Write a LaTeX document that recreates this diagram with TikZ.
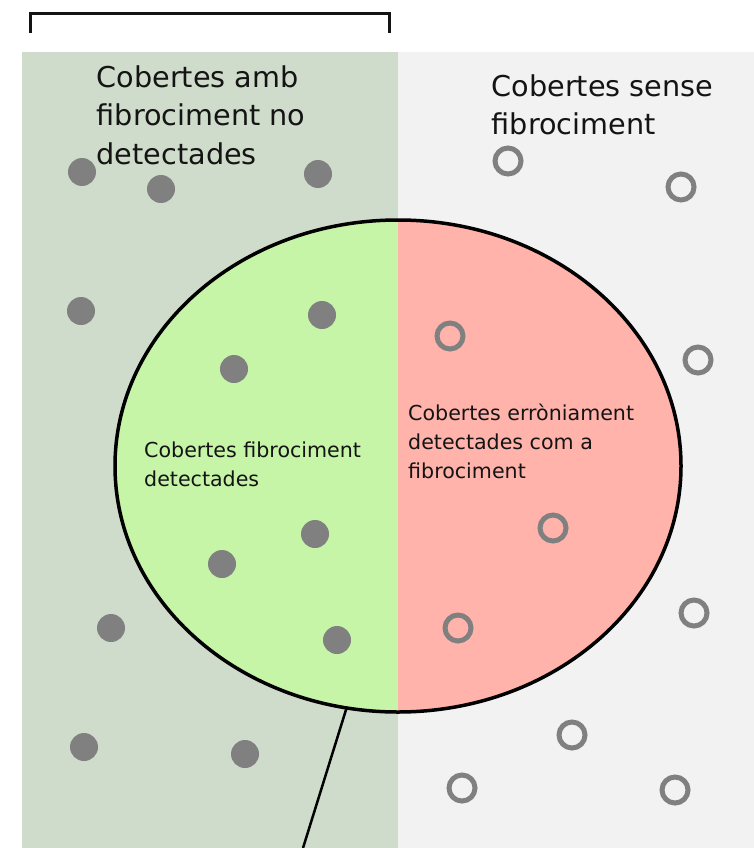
\documentclass[tikz,border=0pt]{standalone}
\usepackage{fontspec}
\setmainfont{DejaVu Sans}
\usetikzlibrary{shapes.geometric}

\definecolor{panelleft}{HTML}{D0DCCB}
\definecolor{panelright}{HTML}{F2F2F2}
\definecolor{leaf}{HTML}{C6F5A8}
\definecolor{salmon}{HTML}{FFB3AB}
\definecolor{dotgray}{HTML}{808080}
\definecolor{ink}{HTML}{141414}

\tikzset{
	bigtext/.style={anchor=north west, inner sep=0pt, align=left, text=ink,
		font=\fontsize{28.7}{38.7}\selectfont},
	smalltext/.style={anchor=north west, inner sep=0pt, align=left, text=ink,
		font=\fontsize{20.6}{28.8}\selectfont},
	found/.style={fill=dotgray},
	missed/.style={draw=dotgray, line width=5pt},
	zone/.style={ellipse, draw=black, line width=3.5pt, inner sep=0pt, outer sep=0pt,
		minimum width=566pt, minimum height=492pt},
	lead/.style={draw=black, line width=2.5pt},
	bracket/.style={draw=ink, line width=3pt},
}

\begin{document}
\begin{tikzpicture}[x=1pt,y=-1pt]

	% ---- parameters

	\def\cx{398}
	\def\cy{466}
	\def\rx{283pt}
	\def\ry{246pt}
	\def\dotr{14pt}
	\def\ringr{13pt}

	\useasboundingbox (0,0) rectangle (754,848);

	% ---- bracket

	\coordinate (B1) at (30,33);
	\coordinate (B2) at (30,14);
	\coordinate (B3) at (389,14);
	\coordinate (B4) at (389,33);
	\draw[bracket] (B1) -- (B2) -- (B3) -- (B4);

	% ---- panels

	\fill[panelleft] (22,52) rectangle (\cx,848);
	\fill[panelright] (\cx,52) rectangle (754,848);

	% ---- ellipse halves

	\begin{scope}
		\clip (0,0) rectangle (\cx,848);
		\fill[leaf] (\cx,\cy) ellipse [x radius=\rx, y radius=\ry];
	\end{scope}
	\begin{scope}
		\clip (\cx,0) rectangle (754,848);
		\fill[salmon] (\cx,\cy) ellipse [x radius=\rx, y radius=\ry];
	\end{scope}

	% ---- roofs with asbestos

	\foreach \x/\y in {82/172, 161/189, 318/174, 81/311, 322/315, 234/369,
		315/534, 222/564, 111/628, 337/640, 84/747, 245/754} {
		\fill[found] (\x,\y) circle (\dotr);
	}

	% ---- roofs without asbestos

	\foreach \x/\y in {508/161, 681/187, 450/336, 698/360, 553/528,
		694/613, 458/628, 572/735, 462/788, 675/790} {
		\draw[missed] (\x,\y) circle (\ringr);
	}

	% ---- ellipse border

	\node[zone] (zone) at (\cx,\cy) {};

	% ---- labels

	\node[bigtext] (missedlabel) at (96.5,65)
		{Cobertes amb\\fibrociment no\\detectades};
	\node[bigtext] (cleanlabel) at (491.5,74)
		{Cobertes sense\\fibrociment};
	\node[smalltext] (hitlabel) at (144,442)
		{Cobertes fibrociment\\detectades};
	\node[smalltext] (falselabel) at (408,404)
		{Cobertes erròniament\\detectades com a\\fibrociment};

	% ---- lead line

	\coordinate (tail) at (303,848);
	\draw[lead] (zone.258) -- (tail);

\end{tikzpicture}
\end{document}
